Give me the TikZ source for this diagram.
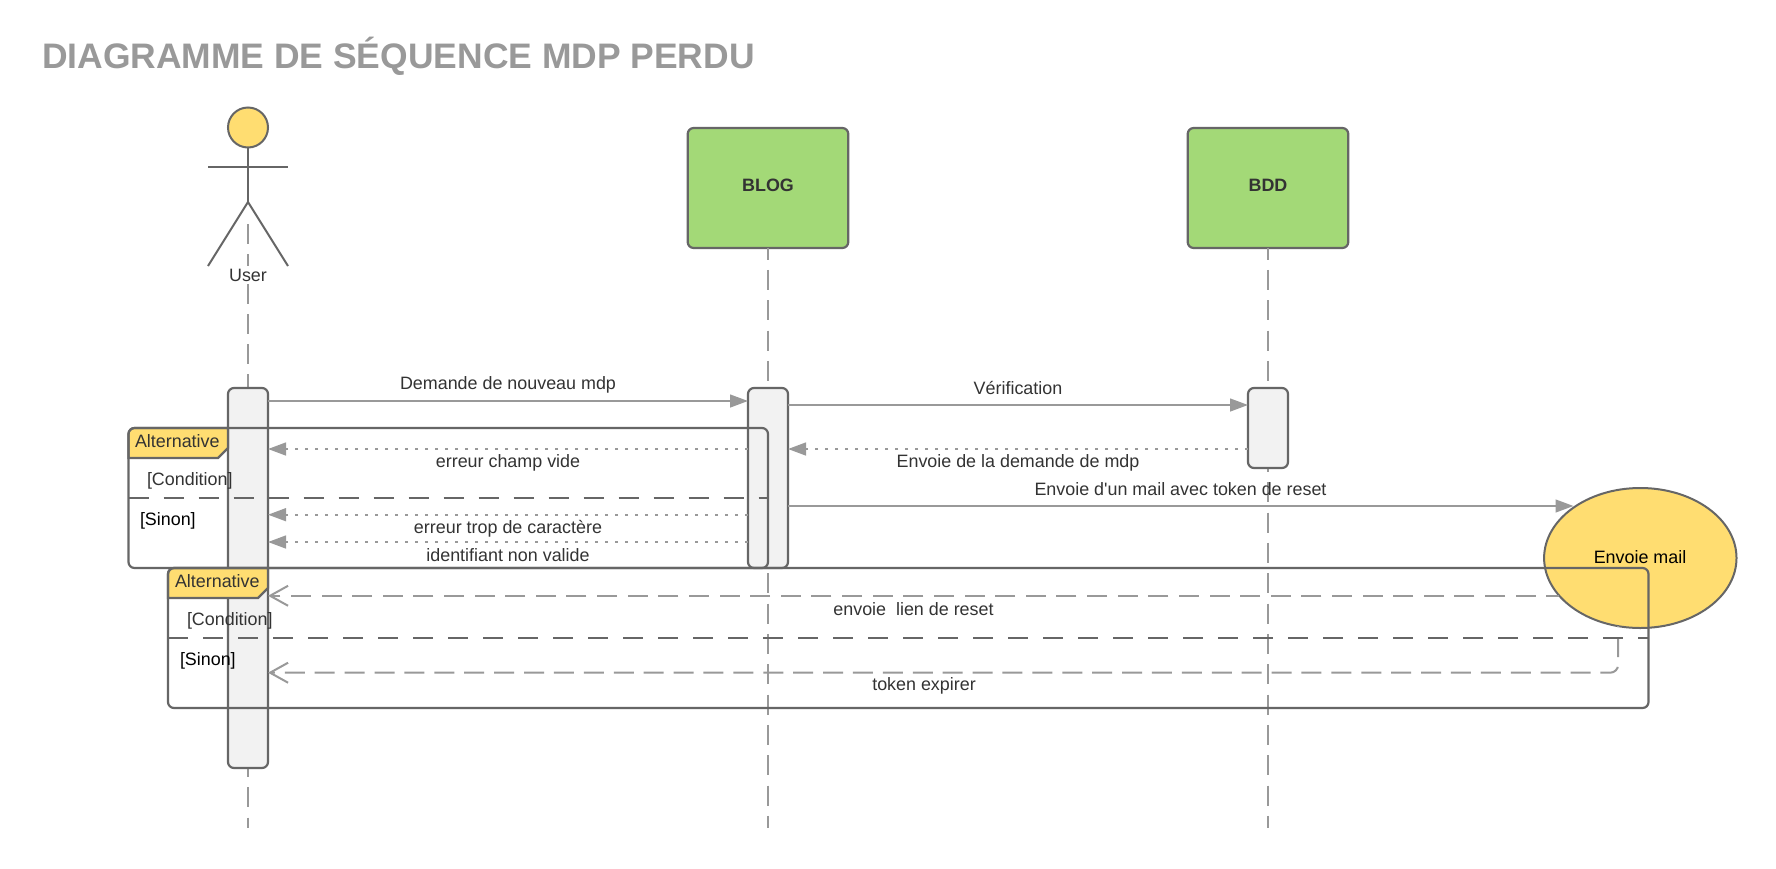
\documentclass[tikz,border=0pt]{standalone}
\usepackage{fontspec}
\setmainfont{Liberation Sans}
\newfontfamily\plainf{Liberation Sans}
\usetikzlibrary{arrows.meta,shapes.geometric,calc}
\definecolor{ln}{HTML}{666666}
\definecolor{ar}{HTML}{999999}
\definecolor{tx}{HTML}{333333}
\definecolor{yel}{HTML}{FFDD71}
\definecolor{grn}{HTML}{A3D977}
\definecolor{barf}{HTML}{F2F2F2}
\tikzset{
 x=0.5pt,y=-0.5pt,
 every node/.style={outer sep=0pt,inner sep=0pt,font=\fontsize{8.95}{10.5}\selectfont,text=tx},
 lifeline/.style={draw=ar,line width=1pt,dash pattern=on 10pt off 5.165pt},
 barbox/.style={draw=ln,fill=barf,line width=1.1pt,rounded corners=3pt,minimum width=20pt},
 objbox/.style={draw=ln,fill=grn,line width=1.1pt,rounded corners=3pt,minimum width=80.3pt,minimum height=60pt},
 syncarrow/.style={draw=ar,line width=1pt,-{Triangle[length=9pt,width=6.4pt,fill=ar]}},
 retarrow/.style={draw=ar,line width=1pt,dash pattern=on 1.5pt off 3.5pt,-{Triangle[length=9pt,width=6.4pt,fill=ar]}},
 openarrow/.style={draw=ar,line width=1pt,-{Straight Barb[length=9pt,width=10pt]}},
 framebox/.style={draw=ln,line width=1.1pt,rounded corners=3pt,minimum height=70pt},
 divider/.style={draw=ln,line width=1.1pt,dash pattern=on 10pt off 7.5pt},
 tabshape/.style={draw=ln,fill=yel,line width=1.1pt},
 stick/.style={draw=ln,line width=1pt},
 blk/.style={text=black},
}
\begin{document}
\begin{tikzpicture}
\useasboundingbox (0,0) rectangle (1776,868);
\fill[white] (0,0) rectangle (1776,868);
\node[anchor=west,text=ar,font=\fontsize{17.72}{20}\selectfont\bfseries] (title) at (42,56) {DIAGRAMME DE SÉQUENCE MDP PERDU};

% objects
\node[circle,draw=ln,fill=yel,line width=1pt,minimum size=20pt] (head) at (248,127.5) {};
\coordinate (hip) at (248,202);
\coordinate (armL) at (208,167);
\coordinate (armR) at (288,167);
\coordinate (legL) at (208,266);
\coordinate (legR) at (288,266);
\node[objbox] (blog) at (768,188) {};
\node[objbox] (bdd) at (1268,188) {};
\coordinate (endU) at (248,828);
\coordinate (endB) at (768,828);
\coordinate (endD) at (1268,828);
\coordinate (startU) at (248,224);
\coordinate (ubarT) at (248,388);
\coordinate (ubarB) at (248,768);

% lifelines
\draw[lifeline,dash pattern=on 10pt off 5pt] (startU) -- (ubarT);
\draw[lifeline,dash phase=5.5pt] (ubarB) -- (endU);
\draw[lifeline,dash phase=4.17pt] (blog.south) -- (endB);
\draw[lifeline,dash phase=4.17pt] (bdd.south) -- (endD);

% stick figure
\draw[stick] (head.south) -- (hip);
\draw[stick] (armL) -- (armR);
\draw[stick] (legL) -- (hip) -- (legR);
\node[fill=white,inner xsep=1pt,inner ysep=1.5pt] (user) at (248,275) {User};
\node[font=\fontsize{8.95}{10.5}\selectfont\bfseries] (blogt) at (768,185) {BLOG};
\node[font=\fontsize{8.95}{10.5}\selectfont\bfseries] (bddt) at (1268,185) {BDD};

% activation bars
\node[barbox,minimum height=190pt] (ubar) at (248,578) {};
\node[barbox,minimum height=90pt] (bbar) at (768,478) {};
\node[barbox,minimum height=40pt] (dbar) at (1268,428) {};

% mail
\node[ellipse,draw=ln,fill=yel,line width=1pt,minimum width=96.2pt,minimum height=70pt] (mail) at (1640.3,558) {};

% message levels
\coordinate (m1) at (0,401);
\coordinate (m2) at (0,405);
\coordinate (m3) at (0,449);
\coordinate (m4) at (0,514.7);
\coordinate (m5) at (0,542);
\coordinate (m6) at (0,672.7);
\coordinate (tp) at (1573.5,506);

\draw[syncarrow] (ubar.east |- m1) -- (bbar.west |- m1);
\draw[syncarrow] (bbar.east |- m2) -- (dbar.west |- m2);
\draw[retarrow] (bbar.west |- m3) -- (ubar.east |- m3);
\draw[retarrow] (dbar.west |- m3) -- (bbar.east |- m3);
\draw[retarrow] (bbar.west |- m4) -- (ubar.east |- m4);
\draw[retarrow] (bbar.west |- m5) -- (ubar.east |- m5);
\draw[syncarrow] (bbar.east |- tp) -- (tp);
\draw[openarrow,dash pattern=on 10pt off 5.31pt,dash phase=3.5pt] (mail.205.1) -- (ubar.east |- mail.205.1);
\draw[openarrow,dash pattern=on 10pt off 4.95pt,dash phase=9.5pt,rounded corners=4pt] (mail.252.5) |- (ubar.east |- m6);

% frames
\coordinate (t1a) at (128.5,458);
\coordinate (t1b) at (218,458);
\coordinate (t1c) at (228,448);
\coordinate (t1d) at (228,428);
\coordinate (t1e) at (134.5,428);
\coordinate (t1f) at (128.5,434);
\draw[tabshape] (t1a) -- (t1b) -- (t1c) -- (t1d) -- (t1e) to[out=180,in=90] (t1f) -- cycle;
\coordinate (t2a) at (168,598);
\coordinate (t2b) at (258,598);
\coordinate (t2c) at (268,588);
\coordinate (t2d) at (268,568);
\coordinate (t2e) at (174,568);
\coordinate (t2f) at (168,574);
\draw[tabshape] (t2a) -- (t2b) -- (t2c) -- (t2d) -- (t2e) to[out=180,in=90] (t2f) -- cycle;
\node[framebox,minimum width=319.75pt] (alt1) at (448.25,498) {};
\node[framebox,minimum width=740.25pt] (alt2) at (908.25,638) {};
\coordinate (d1) at (0,497.7);
\coordinate (d2) at (0,637.7);
\draw[divider] (alt1.west |- d1) -- (alt1.east |- d1);
\draw[divider] (alt2.west |- d2) -- (alt2.east |- d2);

% labels
\node[anchor=west] (a1) at (135,441) {Alternative};
\node[anchor=west] (c1) at (147,480.5) {[Condition]};
\node[anchor=west,blk] (s1) at (140,520.5) {[Sinon]};
\node[anchor=west] (a2) at (175,581) {Alternative};
\node[anchor=west] (c2) at (187,620.5) {[Condition]};
\node[anchor=west,blk] (s2) at (180,660.5) {[Sinon]};

\node (l1) at (508,385.3) {Demande de nouveau mdp};
\node (l2) at (1018,388) {Vérification};
\node (l3) at (508,463) {erreur champ vide};
\node (l4) at (1018,463) {Envoie de la demande de mdp};
\node[font=\plainf\fontsize{8.95}{10.5}\selectfont] (l5) at (1180.5,489) {Envoie d'un mail avec token de reset};
\node (l6) at (508,528.5) {erreur trop de caractère};
\node (l7) at (508,555) {identifiant non valide};
\node (l8) at (913.5,609) {envoie\ \ lien de reset};
\node (l9) at (924,686) {token expirer};
\node[blk] (mailt) at (1640,557.5) {Envoie mail};
\end{tikzpicture}
\end{document}
